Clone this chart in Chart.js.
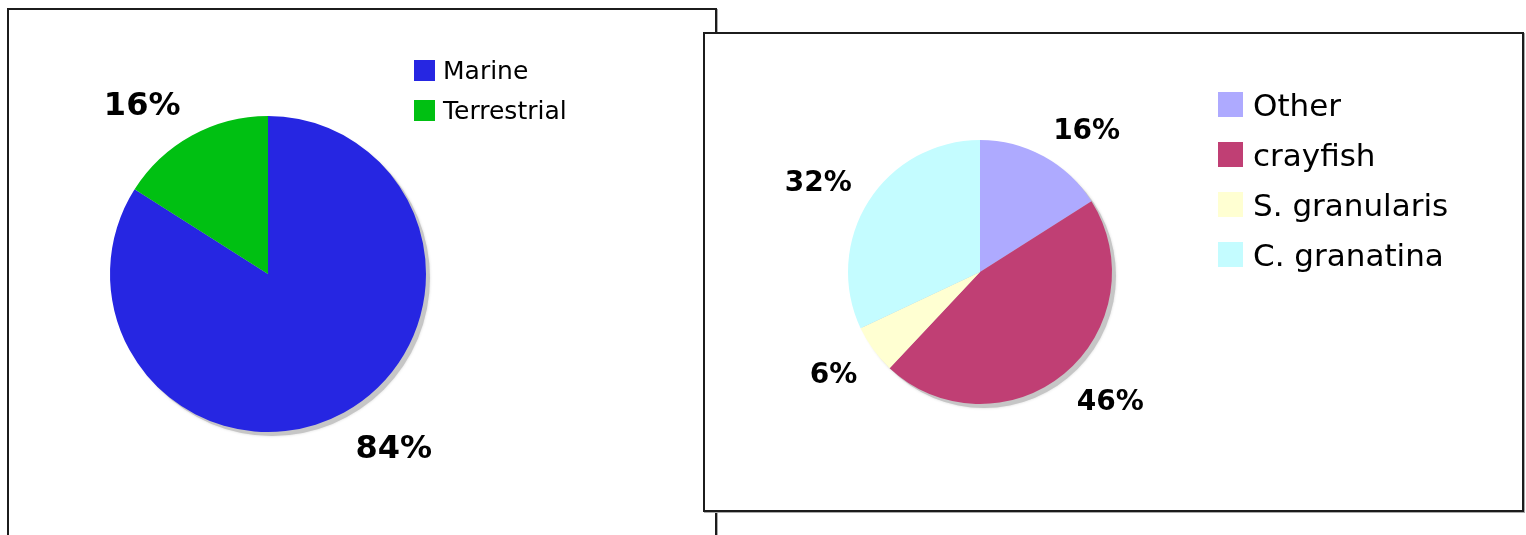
<!DOCTYPE html>
<html>
<head>
<meta charset="utf-8">
<script src="https://cdn.jsdelivr.net/npm/chart.js@4"></script>
<style>
  body { margin: 0; background: #fff; width: 1526px; height: 535px; overflow: hidden; position: relative; font-family: 'DejaVu Sans', Verdana, sans-serif; }
  .box { position: absolute; background: #fff; border: 2px solid #1c1c1c; box-shadow: 1px 1px 0 #aaa; }
  canvas { position: absolute; }
  .legend { position: absolute; }
  .legend .row { position: absolute; white-space: nowrap; display: flex; align-items: center; color: #000; }
  .legend .sw { display: inline-block; }
</style>
</head>
<body>
<div class="box" id="boxLeft" style="left:7px; top:8px; width:706px; height:560px;"></div>
<canvas id="habitat" width="690" height="525" style="left:10px; top:10px;"></canvas>
<div class="legend" id="legendLeft"></div>

<div class="box" id="boxRight" style="left:703px; top:32px; width:817px; height:476px;"></div>
<canvas id="prey" width="816" height="475" style="left:706px; top:34px;"></canvas>
<div class="legend" id="legendRight"></div>

<script>
// left chart: habitat
const habitatLabels = ["Marine", "Terrestrial"];
const habitatValues = [84, 16];
const habitatColors = ["#2626e2", "#00c012"];

// right chart: diet
const preyLabels = ["Other", "crayfish", "S. granularis", "C. granatina"];
const preyValues = [16, 46, 6, 32];
const preyColors = ["#aeaaff", "#c03f74", "#ffffd2", "#c4fcff"];

// grey drop shadow under the pie
const pieShadow = {
  id: "pieShadow",
  beforeDatasetsDraw(chart) {
    const arc = chart.getDatasetMeta(0).data[0];
    if (!arc) return;
    const ctx = chart.ctx;
    ctx.save();
    ctx.fillStyle = "#c6c6c6";
    ctx.shadowColor = "rgba(0,0,0,0.15)";
    ctx.shadowBlur = 3;
    ctx.beginPath();
    ctx.arc(arc.x + 4, arc.y + 4, arc.outerRadius, 0, Math.PI * 2);
    ctx.fill();
    ctx.restore();
  }
};

// percentage labels outside each slice
const pctLabels = {
  id: "pctLabels",
  afterDatasetsDraw(chart, args, opts) {
    const ctx = chart.ctx;
    const values = chart.data.datasets[0].data;
    const total = values.reduce((a, b) => a + b, 0);
    chart.getDatasetMeta(0).data.forEach((arc, i) => {
      const mid = (arc.startAngle + arc.endAngle) / 2;
      const rr = arc.outerRadius * opts.k;
      const ax = arc.x + Math.cos(mid) * rr;
      const ay = arc.y + Math.sin(mid) * rr;
      ctx.save();
      ctx.font = "bold " + opts.size + "px 'DejaVu Sans', Verdana, sans-serif";
      ctx.fillStyle = "#000";
      ctx.textAlign = Math.cos(mid) >= 0 ? "left" : "right";
      ctx.textBaseline = Math.sin(mid) >= 0 ? "top" : "alphabetic";
      ctx.fillText(Math.round(values[i] / total * 100) + "%", ax, ay);
      ctx.restore();
    });
  }
};

function makePie(id, labels, values, colors, padding, labelOpts) {
  return new Chart(document.getElementById(id), {
    type: "pie",
    data: {
      labels: labels,
      datasets: [{
        data: values,
        backgroundColor: colors,
        borderWidth: 0,
        hoverOffset: 0,
        offset: 0
      }]
    },
    options: {
      responsive: false,
      animation: false,
      layout: { padding: padding },
      plugins: {
        legend: { display: false },
        tooltip: { enabled: false },
        pctLabels: labelOpts
      },
      events: []
    },
    plugins: [pieShadow, pctLabels]
  });
}

function makeLegend(id, labels, colors, x, y, step, sw, fontSize) {
  const el = document.getElementById(id);
  labels.forEach((lab, i) => {
    const row = document.createElement("div");
    row.className = "row";
    row.style.left = x + "px";
    row.style.top = (y + i * step) + "px";
    row.style.fontSize = fontSize + "px";
    row.style.height = sw + "px";
    const box = document.createElement("span");
    box.className = "sw";
    box.style.width = sw + "px";
    box.style.height = sw + "px";
    box.style.background = colors[i];
    box.style.marginRight = Math.round(sw * 0.4) + "px";
    const txt = document.createElement("span");
    txt.textContent = lab;
    row.appendChild(box);
    row.appendChild(txt);
    el.appendChild(row);
  });
}

makePie("habitat", habitatLabels, habitatValues, habitatColors,
  { left: 100, right: 274, top: 106, bottom: 103 }, { k: 1.15, size: 32 });
makePie("prey", preyLabels, preyValues, preyColors,
  { left: 142, right: 410, top: 106, bottom: 105 }, { k: 1.15, size: 28 });

makeLegend("legendLeft", habitatLabels, habitatColors, 414, 60, 40, 21, 25);
makeLegend("legendRight", preyLabels, preyColors, 1218, 92, 50, 25, 31);
</script>
</body>
</html>
